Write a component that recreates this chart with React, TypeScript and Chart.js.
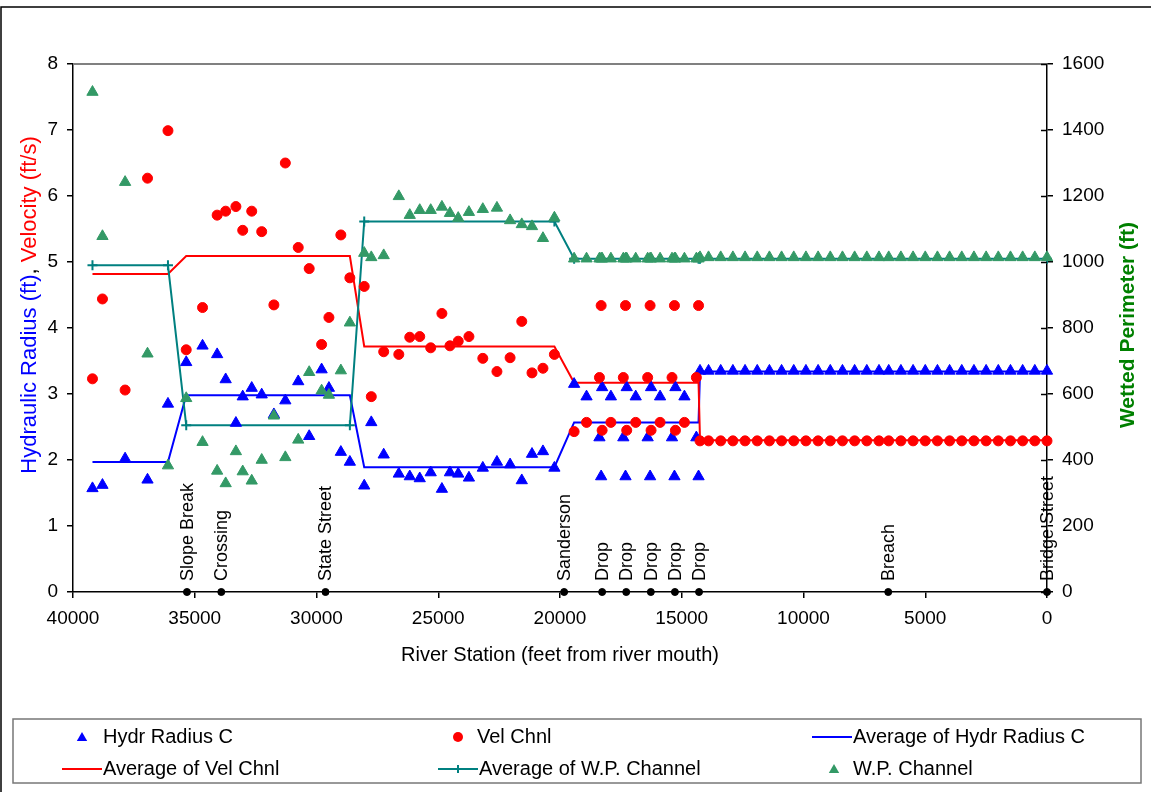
import React, { useEffect, useRef } from "react";
import { Chart, registerables } from "chart.js";

Chart.register(...registerables);

const FONT = "'Liberation Sans', Arial, Helvetica, sans-serif";

// ---- data (River Station in feet from river mouth) ----
const stations = [
  39200, 38790, 37860, 36940, 36100,
  35350, 34680, 34080, 33730, 33310, 33030, 32660, 32250, 31750, 31280, 30750, 30300, 29790, 29490, 29000, 28630,
  28040, 27750, 27240, 26620, 26170, 25760, 25310, 24850, 24520, 24180, 23740, 23170, 22590, 22050, 21570, 21150, 20700, 20230,
  19420, 18910, 18380, 18310, 18270, 17910, 17400, 17310, 17260, 16890, 16400, 16300, 16260, 15890, 15400, 15300, 15260, 14890, 14400, 14310,
  14250, 13900, 13400, 12900, 12400, 11900, 11400, 10900, 10400, 9900, 9400, 8900, 8400, 7900, 7400, 6900, 6500, 6000, 5500, 5000,
  4500, 4000, 3500, 3000, 2500, 2000, 1500, 1000, 500, 0,
];

const hydrRadius = [
  1.57, 1.62, 2.02, 1.70, 2.85,
  3.48, 3.73, 3.60, 3.22, 2.56, 2.96, 3.09, 2.99, 2.69, 2.90, 3.19, 2.36, 3.37, 3.09, 2.12, 1.97,
  1.61, 2.57, 2.08, 1.79, 1.75, 1.72, 1.81, 1.56, 1.81, 1.79, 1.73, 1.88, 1.97, 1.93, 1.69, 2.09, 2.13, 1.88,
  3.15, 2.96, 2.34, 1.75, 3.10, 2.96, 2.34, 1.75, 3.10, 2.96, 2.34, 1.75, 3.10, 2.96, 2.34, 1.75, 3.10, 2.96, 2.34, 1.75,
  3.35, 3.35, 3.35, 3.35, 3.35, 3.35, 3.35, 3.35, 3.35, 3.35, 3.35, 3.35, 3.35, 3.35, 3.35, 3.35, 3.35, 3.35, 3.35, 3.35,
  3.35, 3.35, 3.35, 3.35, 3.35, 3.35, 3.35, 3.35, 3.35, 3.35,
];

const velChnl = [
  3.23, 4.44, 3.06, 6.27, 6.99,
  3.67, 4.31, 5.71, 5.77, 5.84, 5.48, 5.77, 5.46, 4.35, 6.50, 5.22, 4.90, 3.75, 4.16, 5.41, 4.76,
  4.63, 2.96, 3.64, 3.60, 3.86, 3.87, 3.70, 4.22, 3.73, 3.80, 3.87, 3.54, 3.34, 3.55, 4.10, 3.32, 3.39, 3.60,
  2.43, 2.57, 3.25, 4.34, 2.45, 2.57, 3.25, 4.34, 2.45, 2.57, 3.25, 4.34, 2.45, 2.57, 3.25, 4.34, 2.45, 2.57, 3.25, 4.34,
  2.29, 2.29, 2.29, 2.29, 2.29, 2.29, 2.29, 2.29, 2.29, 2.29, 2.29, 2.29, 2.29, 2.29, 2.29, 2.29, 2.29, 2.29, 2.29, 2.29,
  2.29, 2.29, 2.29, 2.29, 2.29, 2.29, 2.29, 2.29, 2.29, 2.29,
];

const wpChannel = [
  1515, 1078, 1242, 722, 383,
  587, 454, 367, 329, 426, 365, 337, 400, 534, 408, 461, 666, 610, 597, 671, 816,
  1027, 1014, 1020, 1199, 1142, 1157, 1157, 1167, 1148, 1133, 1151, 1160, 1164, 1126, 1114, 1108, 1072, 1134,
  1010, 1010, 1010, 1010, 1010, 1010, 1010, 1010, 1010, 1010, 1010, 1010, 1010, 1010, 1010, 1010, 1010, 1010, 1010, 1010,
  1014, 1014, 1014, 1014, 1014, 1014, 1014, 1014, 1014, 1014, 1014, 1014, 1014, 1014, 1014, 1014, 1014, 1014, 1014, 1014,
  1014, 1014, 1014, 1014, 1014, 1014, 1014, 1014, 1014, 1014,
];

// reach averages (start / end station of each reach)
const avgStations = [39200, 36100, 35350, 28630, 28040, 20230, 19420, 14310, 14250, 0];
const avgHydr = [1.97, 1.97, 2.98, 2.98, 1.89, 1.89, 2.57, 2.57, 3.34, 3.34];
const avgVel = [4.82, 4.82, 5.09, 5.09, 3.72, 3.72, 3.17, 3.17, 2.30, 2.30];
const avgWP = [990, 990, 505, 505, 1123, 1123, 1010, 1010, 1010, 1010];

// landmarks
const landmarkNames = [
  "Slope Break", "Crossing", "State Street", "Sanderson",
  "Drop", "Drop", "Drop", "Drop", "Drop", "Breach", "Bridge Street",
];
const landmarkStations = [35320, 33910, 29630, 19830, 18270, 17280, 16270, 15280, 14290, 6520, 0];

const BLUE = "#0000FF";
const RED = "#FF0000";
const TEAL = "#008080";
const SEA = "#339966";

const pts = (xs: number[], ys: number[]) => xs.map((x, i) => ({ x, y: ys[i] }));

function drawTri(ctx: CanvasRenderingContext2D, x: number, y: number, r: number, color: string) {
  ctx.beginPath();
  ctx.moveTo(x, y - r);
  ctx.lineTo(x + r * 0.866, y + r * 0.5);
  ctx.lineTo(x - r * 0.866, y + r * 0.5);
  ctx.closePath();
  ctx.fillStyle = color;
  ctx.fill();
}

const overlay = {
  id: "overlay",
  afterDraw(chart: any) {
    const { ctx, chartArea: ca, scales } = chart;
    const xs = scales.x;
    const y2 = scales.y2;
    ctx.save();

    // plot area top border
    ctx.strokeStyle = "#808080";
    ctx.lineWidth = 2;
    ctx.beginPath();
    ctx.moveTo(ca.left, ca.top);
    ctx.lineTo(ca.right, ca.top);
    ctx.stroke();

    // inner ticks of the right axis
    ctx.strokeStyle = "#000";
    ctx.lineWidth = 1.5;
    y2.ticks.forEach((t: any) => {
      const py = Math.round(y2.getPixelForValue(t.value)) + 0.5;
      ctx.beginPath();
      ctx.moveTo(ca.right - 6, py);
      ctx.lineTo(ca.right, py);
      ctx.stroke();
    });

    // landmark labels
    ctx.fillStyle = "#000";
    ctx.font = `18px ${FONT}`;
    ctx.textAlign = "left";
    ctx.textBaseline = "middle";
    landmarkStations.forEach((s, i) => {
      const px = xs.getPixelForValue(s);
      ctx.save();
      ctx.translate(px + 1, ca.bottom - 11);
      ctx.rotate(-Math.PI / 2);
      ctx.fillText(landmarkNames[i], 0, 0);
      ctx.restore();
    });

    // left axis title (multi-colour)
    ctx.font = `22px ${FONT}`;
    const parts: [string, string][] = [
      ["Hydraulic Radius (ft)", BLUE],
      [", ", "#000"],
      ["Velocity (ft/s)", RED],
    ];
    const total = parts.reduce((a, p) => a + ctx.measureText(p[0]).width, 0);
    ctx.save();
    ctx.translate(30, 305 + total / 2);
    ctx.rotate(-Math.PI / 2);
    let off = 0;
    parts.forEach(([t, c]) => {
      ctx.fillStyle = c;
      ctx.fillText(t, off, 0);
      off += ctx.measureText(t).width;
    });
    ctx.restore();

    // right axis title
    ctx.save();
    ctx.font = `bold 21px ${FONT}`;
    ctx.fillStyle = "#008000";
    ctx.textAlign = "center";
    ctx.translate(1128, 325);
    ctx.rotate(-Math.PI / 2);
    ctx.fillText("Wetted Perimeter (ft)", 0, 0);
    ctx.restore();

    // x axis title
    ctx.font = `20px ${FONT}`;
    ctx.fillStyle = "#000";
    ctx.textAlign = "center";
    ctx.fillText("River Station (feet from river mouth)", 560, 655);

    // outer frame
    ctx.strokeStyle = "#000";
    ctx.lineWidth = 1.5;
    ctx.beginPath();
    ctx.moveTo(1, 800);
    ctx.lineTo(1, 7);
    ctx.lineTo(1151, 7);
    ctx.stroke();

    // legend box
    ctx.strokeStyle = "#777";
    ctx.lineWidth = 1.5;
    ctx.strokeRect(13, 719, 1128, 64);

    ctx.font = `20px ${FONT}`;
    ctx.textAlign = "left";
    ctx.textBaseline = "middle";
    const r1 = 737;
    const r2 = 769;
    // row 1
    drawTri(ctx, 82, r1 + 1, 6, BLUE);
    ctx.fillStyle = "#000";
    ctx.fillText("Hydr Radius C", 103, r1);
    ctx.beginPath();
    ctx.arc(458, r1, 5, 0, Math.PI * 2);
    ctx.fillStyle = RED;
    ctx.fill();
    ctx.fillStyle = "#000";
    ctx.fillText("Vel Chnl", 477, r1);
    ctx.strokeStyle = BLUE;
    ctx.lineWidth = 2;
    ctx.beginPath();
    ctx.moveTo(812, r1);
    ctx.lineTo(852, r1);
    ctx.stroke();
    ctx.fillText("Average of Hydr Radius C", 853, r1);
    // row 2
    ctx.strokeStyle = RED;
    ctx.beginPath();
    ctx.moveTo(62, r2);
    ctx.lineTo(102, r2);
    ctx.stroke();
    ctx.fillText("Average of Vel Chnl", 103, r2);
    ctx.strokeStyle = TEAL;
    ctx.beginPath();
    ctx.moveTo(438, r2);
    ctx.lineTo(478, r2);
    ctx.moveTo(458, r2 - 4);
    ctx.lineTo(458, r2 + 4);
    ctx.stroke();
    ctx.fillText("Average of W.P. Channel", 479, r2);
    drawTri(ctx, 834, r2 + 1, 6, SEA);
    ctx.fillStyle = "#000";
    ctx.fillText("W.P. Channel", 853, r2);

    ctx.restore();
  },
};

export default function App() {
  const ref = useRef<HTMLCanvasElement>(null);

  useEffect(() => {
    const canvas = ref.current;
    if (!canvas) return;
    const tickFont = { family: FONT, size: 19 };
    const gridOpts = {
      display: true,
      drawOnChartArea: false,
      drawTicks: true,
      tickLength: 6,
      color: "#000",
      lineWidth: 1.5,
    };
    const border = { display: true, color: "#000", width: 1.5 };
    const plain = (v: any) => String(v);

    const chart = new Chart(canvas, {
      type: "scatter",
      data: {
        datasets: [
          {
            label: "Landmarks",
            data: landmarkStations.map((s) => ({ x: s, y: 0 })),
            pointStyle: "circle",
            pointRadius: 3.5,
            backgroundColor: "#000",
            borderColor: "#000",
            showLine: false,
            clip: false,
          },
          {
            label: "W.P. Channel",
            data: pts(stations, wpChannel),
            yAxisID: "y2",
            pointStyle: "triangle",
            pointRadius: 6.5,
            pointBorderWidth: 1,
            backgroundColor: SEA,
            borderColor: SEA,
            showLine: false,
            clip: false,
          },
          {
            label: "Vel Chnl",
            data: pts(stations, velChnl),
            pointStyle: "circle",
            pointRadius: 5,
            pointBorderWidth: 1,
            backgroundColor: RED,
            borderColor: RED,
            showLine: false,
            clip: false,
          },
          {
            label: "Hydr Radius C",
            data: pts(stations, hydrRadius),
            pointStyle: "triangle",
            pointRadius: 6.5,
            pointBorderWidth: 1,
            backgroundColor: BLUE,
            borderColor: BLUE,
            showLine: false,
            clip: false,
          },
          {
            label: "Average of W.P. Channel",
            data: pts(avgStations, avgWP),
            yAxisID: "y2",
            showLine: true,
            borderColor: TEAL,
            backgroundColor: TEAL,
            borderWidth: 2,
            pointStyle: "cross",
            pointRadius: 5,
            pointBorderWidth: 2,
            clip: false,
          },
          {
            label: "Average of Vel Chnl",
            data: pts(avgStations, avgVel),
            showLine: true,
            borderColor: RED,
            borderWidth: 2,
            pointRadius: 0,
            clip: false,
          },
          {
            label: "Average of Hydr Radius C",
            data: pts(avgStations, avgHydr),
            showLine: true,
            borderColor: BLUE,
            borderWidth: 2,
            pointRadius: 0,
            clip: false,
          },
        ],
      },
      options: {
        responsive: false,
        maintainAspectRatio: false,
        animation: false,
        devicePixelRatio: 1,
        events: [],
        layout: { padding: { top: 64, left: 0, right: 0, bottom: 0 } },
        plugins: {
          legend: { display: false },
          tooltip: { enabled: false },
          title: { display: false },
        },
        scales: {
          x: {
            type: "linear",
            reverse: true,
            min: 0,
            max: 40000,
            afterFit: (s: any) => {
              s.height = 200;
            },
            ticks: {
              stepSize: 5000,
              color: "#000",
              font: tickFont,
              padding: 9,
              maxRotation: 0,
              autoSkip: false,
              callback: plain,
            },
            grid: gridOpts,
            border,
          },
          y: {
            position: "left",
            min: 0,
            max: 8,
            afterFit: (s: any) => {
              s.width = 73;
            },
            ticks: { stepSize: 1, color: "#000", font: tickFont, padding: 9, callback: plain },
            grid: gridOpts,
            border,
          },
          y2: {
            position: "right",
            min: 0,
            max: 1600,
            afterFit: (s: any) => {
              s.width = 104;
            },
            ticks: { stepSize: 200, color: "#000", font: tickFont, padding: 9, callback: plain },
            grid: gridOpts,
            border,
          },
        },
      } as any,
      plugins: [overlay],
    });
    return () => chart.destroy();
  }, []);

  return (
    <div style={{ position: "absolute", left: 0, top: 0, width: 1151, height: 792, background: "#fff" }}>
      <canvas ref={ref} width={1151} height={792} style={{ display: "block" }} />
    </div>
  );
}
